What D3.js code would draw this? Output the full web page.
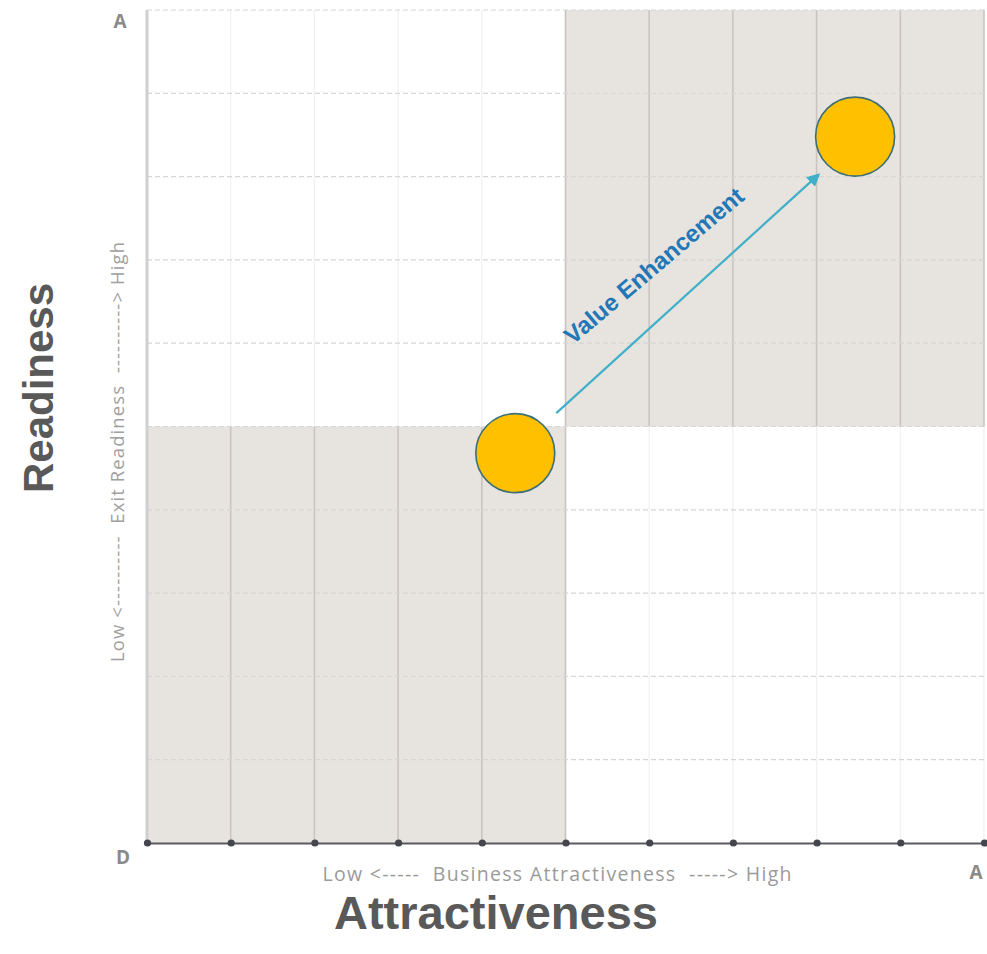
<!DOCTYPE html>
<html>
<head>
<meta charset="utf-8">
<script src="https://cdn.jsdelivr.net/npm/d3@7"></script>
<style>
  html, body { margin: 0; padding: 0; background: #fff; }
  svg { display: block; }
  .pre { white-space: pre; }
</style>
</head>
<body>
<svg id="chart" width="987" height="954"></svg>
<script>
// ---- data ----
const gridValues = [0, 1, 2, 3, 4, 5, 6, 7, 8, 9, 10];
const shadedX0 = [0, 5];
const shadedX1 = [5, 10];
const shadedY0 = [0, 5];
const shadedY1 = [5, 10];
const pointNames = ["Current", "Enhanced"];
const pointX = [4.40, 8.46];
const pointY = [4.68, 8.48];
const arrowFrom = [4.89, 5.16];
const arrowTo = [8.02, 8.02];
const arrowLabel = "Value Enhancement";
const cornerLabels = ["A", "D", "A"];
const xAxisLabel = "Low <-----  Business Attractiveness  -----> High";
const yAxisLabel = "Low <----------  Exit Readiness  ----------> High";
const xTitle = "Attractiveness";
const yTitle = "Readiness";

// ---- layout ----
const svg = d3.select("#chart");
const pL = 147, pR = 984, pT = 10, pB = 843;
const x = d3.scaleLinear().domain([0, 10]).range([pL, pR]);
const y = d3.scaleLinear().domain([0, 10]).range([pB, pT]);

// shaded quadrants
svg.append("g").selectAll("rect")
  .data(shadedX0.map((d, i) => ({x0: d, x1: shadedX1[i], y0: shadedY0[i], y1: shadedY1[i]})))
  .join("rect")
  .attr("x", d => x(d.x0)).attr("y", d => y(d.y1))
  .attr("width", d => x(d.x1) - x(d.x0)).attr("height", d => y(d.y0) - y(d.y1))
  .attr("fill", "#e7e3df");

const inShade = (xv, yv) => shadedX0.some((d, i) => xv > d && xv < shadedX1[i] && yv > shadedY0[i] && yv < shadedY1[i]);

// vertical grid lines (segment per cell so shaded cells get darker lines)
const segs = [];
gridValues.slice(1).forEach(gx => {
  gridValues.slice(0, -1).forEach(gy => {
    segs.push({gx, gy, shaded: inShade(gx - 0.5, gy + 0.5) || inShade(gx + 0.5, gy + 0.5)});
  });
});
svg.append("g").selectAll("line").data(segs).join("line")
  .attr("x1", d => x(d.gx)).attr("x2", d => x(d.gx))
  .attr("y1", d => y(d.gy)).attr("y2", d => y(d.gy + 1))
  .attr("stroke", d => d.shaded ? "#c9c4bf" : "#f1f1f1")
  .attr("stroke-width", d => d.shaded ? 1.6 : 1.2);

// horizontal dashed grid lines
svg.append("g").selectAll("line")
  .data(gridValues.slice(1))
  .join("line")
  .attr("x1", x(0)).attr("x2", x(10))
  .attr("y1", d => y(d)).attr("y2", d => y(d))
  .attr("stroke", "#d6d6d6").attr("stroke-width", 1.2)
  .attr("stroke-dasharray", "5,3");

// left axis
svg.append("line")
  .attr("x1", x(0)).attr("x2", x(0)).attr("y1", y(10)).attr("y2", y(0))
  .attr("stroke", "#cfcfcf").attr("stroke-width", 3);

// bottom axis with dots
const xAxis = d3.axisBottom(x).tickValues(gridValues).tickSize(0).tickFormat("");
const gx = svg.append("g").attr("transform", `translate(0,${pB})`).call(xAxis);
gx.select(".domain").attr("stroke", "#5a5a60").attr("stroke-width", 2.2);
gx.selectAll(".tick").append("circle").attr("r", 3.6).attr("fill", "#44464d");

// corner labels
const cornerPos = [[120, 28], [123, 864], [976, 879]];
svg.append("g").selectAll("text").data(cornerLabels).join("text")
  .attr("x", (d, i) => cornerPos[i][0]).attr("y", (d, i) => cornerPos[i][1])
  .text(d => d)
  .attr("font-family", "Open Sans, sans-serif").attr("font-weight", "bold")
  .attr("font-size", 19).attr("fill", "#8a8a8a").attr("text-anchor", "middle");

// axis descriptive labels
svg.append("text").attr("class", "pre").attr("x", 557).attr("y", 881).text(xAxisLabel)
  .attr("font-family", "Open Sans, sans-serif").attr("font-size", 19.5)
  .attr("textLength", 469).attr("lengthAdjust", "spacing")
  .attr("fill", "#9a9a9a").attr("text-anchor", "middle");
svg.append("text").attr("class", "pre").attr("transform", `translate(124,452) rotate(-90)`).text(yAxisLabel)
  .attr("font-family", "Open Sans, sans-serif").attr("font-size", 18.5)
  .attr("textLength", 420).attr("lengthAdjust", "spacing")
  .attr("fill", "#a0a0a0").attr("text-anchor", "middle");

// titles
svg.append("text").attr("x", 496).attr("y", 929).text(xTitle)
  .attr("font-family", "Liberation Sans, Arial, sans-serif").attr("font-weight", "bold")
  .attr("font-size", 47).attr("fill", "#595959").attr("text-anchor", "middle");
svg.append("text").attr("transform", `translate(53,388) rotate(-90)`).text(yTitle)
  .attr("font-family", "Liberation Sans, Arial, sans-serif").attr("font-weight", "bold")
  .attr("font-size", 42).attr("fill", "#595959").attr("text-anchor", "middle");

// arrow
const defs = svg.append("defs");
defs.append("marker").attr("id", "arrowhead")
  .attr("viewBox", "0 0 10 10").attr("refX", 8).attr("refY", 5)
  .attr("markerWidth", 6).attr("markerHeight", 6).attr("orient", "auto")
  .append("path").attr("d", "M0,0 L10,5 L0,10 z").attr("fill", "#3fb0c8");
svg.append("line")
  .attr("x1", x(arrowFrom[0])).attr("y1", y(arrowFrom[1]))
  .attr("x2", x(arrowTo[0])).attr("y2", y(arrowTo[1]))
  .attr("stroke", "#3fb0c8").attr("stroke-width", 2.2)
  .attr("marker-end", "url(#arrowhead)");

// arrow label
const ax1 = x(arrowFrom[0]), ay1 = y(arrowFrom[1]), ax2 = x(arrowTo[0]), ay2 = y(arrowTo[1]);
const ang = Math.atan2(ay2 - ay1, ax2 - ax1) * 180 / Math.PI + 2;
const mx = (ax1 + ax2) / 2 - 28, my = (ay1 + ay2) / 2 - 22;
svg.append("text").attr("transform", `translate(${mx},${my}) rotate(${ang})`)
  .text(arrowLabel)
  .attr("font-family", "Liberation Sans, Arial, sans-serif").attr("font-weight", "bold")
  .attr("font-size", 24).attr("fill", "#2277b6").attr("text-anchor", "middle");

// points
svg.append("g").selectAll("circle")
  .data(pointNames.map((n, i) => ({name: n, x: pointX[i], y: pointY[i]})))
  .join("circle")
  .attr("cx", d => x(d.x)).attr("cy", d => y(d.y)).attr("r", 39.5)
  .attr("fill", "#ffc000").attr("stroke", "#3c6f76").attr("stroke-width", 1.6);
</script>
</body>
</html>
